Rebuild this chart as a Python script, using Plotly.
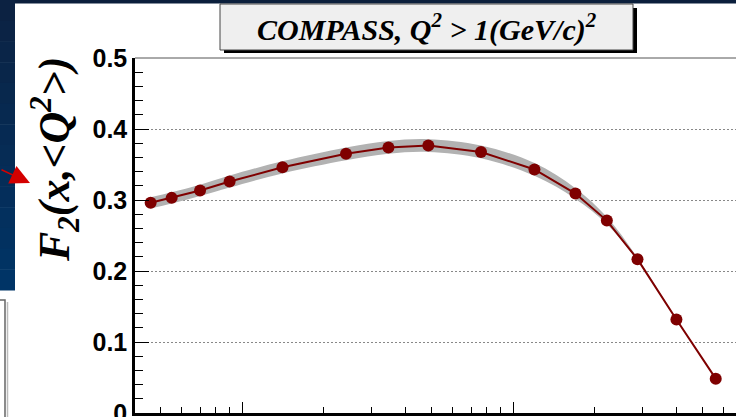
import plotly.graph_objects as go

# F2 structure function vs Bjorken x (COMPASS, Q^2 > 1 (GeV/c)^2)
x_bj = [0.0046, 0.0055, 0.0070, 0.0090, 0.0141, 0.0242, 0.0347, 0.0487,
        0.0762, 0.120, 0.170, 0.222, 0.288, 0.401, 0.560]
f2_values = [0.296, 0.303, 0.3135, 0.326, 0.346, 0.365, 0.374, 0.3766,
             0.3677, 0.343, 0.309, 0.271, 0.2167, 0.1316, 0.0484]
# half-width of the uncertainty band at each point
f2_band = [0.008, 0.008, 0.008, 0.0085, 0.0085, 0.009, 0.009, 0.009,
           0.009, 0.009, 0.0075, 0.005, 0.002, 0.001, 0.0005]

y_ticks = [0.0, 0.1, 0.2, 0.3, 0.4, 0.5]
y_tick_text = ["0", "0.1", "0.2", "0.3", "0.4", "0.5"]
x_major = [0.01, 0.1]
x_minor = [0.004, 0.005, 0.006, 0.007, 0.008, 0.009,
           0.02, 0.03, 0.04, 0.05, 0.06, 0.07, 0.08, 0.09,
           0.2, 0.3, 0.4, 0.5, 0.6]

title_text = "COMPASS, Q<sup>2</sup> > 1(GeV/c)<sup>2</sup>"
ylabel_text = "F<sub>2</sub>(x,&lt;Q<sup>2</sup>&gt;)"

W, H = 736, 417
ML, MR, MT, MB = 135, 0, 58, 4
PW, PH = W - ML - MR, H - MT - MB


def px_x(p):
    return (p - ML) / PW


def px_y(p):
    return (H - MB - p) / PH


DARK_RED = "#7f0000"
BAND = "#b2b2b2"

upper = [v + e for v, e in zip(f2_values, f2_band)]
lower = [v - e for v, e in zip(f2_values, f2_band)]

fig = go.Figure()
fig.add_trace(go.Scatter(x=x_bj, y=lower, mode="lines",
                         line=dict(width=0, color=BAND, shape="spline"),
                         hoverinfo="skip", showlegend=False))
fig.add_trace(go.Scatter(x=x_bj, y=upper, mode="lines", fill="tonexty",
                         fillcolor=BAND,
                         line=dict(width=0, color=BAND, shape="spline"),
                         hoverinfo="skip", showlegend=False))
fig.add_trace(go.Scatter(x=x_bj, y=f2_values, mode="lines+markers",
                         line=dict(color=DARK_RED, width=2),
                         marker=dict(color=DARK_RED, size=12, line=dict(width=0)),
                         showlegend=False))

shapes = []
# frame top edge
shapes.append(dict(type="line", xref="paper", yref="paper", x0=0, x1=1,
                   y0=1, y1=1, line=dict(color="#555555", width=1)))
# slide background: navy strip along the top
shapes.append(dict(type="rect", xref="paper", yref="paper",
                   x0=px_x(-5), x1=px_x(W + 5), y0=px_y(3.5), y1=px_y(-5),
                   fillcolor="#0b1f3c", line=dict(width=0)))
# slide background: gradient strip on the left
n_steps = 14
top_rgb = (12, 34, 66)
bot_rgb = (0, 52, 102)
for i in range(n_steps):
    t = i / (n_steps - 1)
    c = tuple(round(a + (b - a) * t) for a, b in zip(top_rgb, bot_rgb))
    y0 = 290 * i / n_steps
    y1 = 290 * (i + 1) / n_steps
    shapes.append(dict(type="rect", xref="paper", yref="paper",
                       x0=px_x(-5), x1=px_x(15), y0=px_y(y1 + 0.5), y1=px_y(y0),
                       fillcolor="rgb(%d,%d,%d)" % c, line=dict(width=0)))
# neighbouring panel edge at lower left
shapes.append(dict(type="rect", xref="paper", yref="paper",
                   x0=px_x(-20), x1=px_x(5), y0=px_y(440), y1=px_y(300),
                   fillcolor="rgba(0,0,0,0)", line=dict(color="#666666", width=1.5)))
shapes.append(dict(type="line", xref="paper", yref="paper",
                   x0=px_x(7.5), x1=px_x(7.5), y0=px_y(440), y1=px_y(302),
                   line=dict(color="#bbbbbb", width=1.5)))
# title box with drop shadow
shapes.append(dict(type="rect", xref="paper", yref="paper",
                   x0=px_x(224), x1=px_x(637), y0=px_y(53), y1=px_y(8),
                   fillcolor="#000000", line=dict(width=0)))
shapes.append(dict(type="rect", xref="paper", yref="paper",
                   x0=px_x(220), x1=px_x(633), y0=px_y(50), y1=px_y(4),
                   fillcolor="#efefef", line=dict(color="#444444", width=1)))

annotations = [
    dict(text=title_text, xref="paper", yref="paper",
         x=px_x(427), y=px_y(28), xanchor="center", yanchor="middle",
         showarrow=False,
         font=dict(family="Liberation Serif", size=30, color="black",
                   weight="bold", style="italic")),
    dict(text=ylabel_text, xref="paper", yref="paper",
         x=px_x(55), y=px_y(160), xanchor="center", yanchor="middle",
         textangle=-90, showarrow=False,
         font=dict(family="Liberation Serif", size=44, color="black",
                   weight="bold", style="italic")),
    dict(text="", xref="paper", yref="paper",
         x=px_x(30), y=px_y(183), showarrow=True,
         ax=-45, ay=-14, arrowhead=2, arrowsize=2.6, arrowwidth=1.5,
         arrowcolor="#d40000"),
]

fig.update_layout(
    width=W, height=H,
    margin=dict(l=ML, r=MR, t=MT, b=MB, autoexpand=False),
    paper_bgcolor="white", plot_bgcolor="white",
    shapes=shapes, annotations=annotations,
    showlegend=False,
)
fig.update_xaxes(
    type="log", range=[-2.395, -0.177],
    showgrid=False, zeroline=False,
    showline=True, linecolor="black", linewidth=2.5,
    ticks="inside", tickvals=x_major, ticklen=11, tickwidth=1.2,
    tickcolor="black", showticklabels=False,
    minor=dict(ticks="inside", tickvals=x_minor, ticklen=6, tickwidth=1,
               tickcolor="black", showgrid=False),
)
fig.update_yaxes(
    range=[0, 0.5], zeroline=False,
    showline=True, linecolor="black", linewidth=2.5,
    tickvals=y_ticks, ticktext=y_tick_text, ticklabeloverflow="allow",
    ticks="inside", ticklen=14, tickwidth=1.2, tickcolor="black",
    showgrid=True, gridcolor="#888888", griddash="2px,2px", gridwidth=1,
    tickfont=dict(family="Liberation Sans", size=25, color="black",
                  weight="bold"),
    minor=dict(ticks="inside", dtick=0.02, ticklen=8, tickwidth=1,
               tickcolor="black", showgrid=False),
)

fig.write_html("out.html")
